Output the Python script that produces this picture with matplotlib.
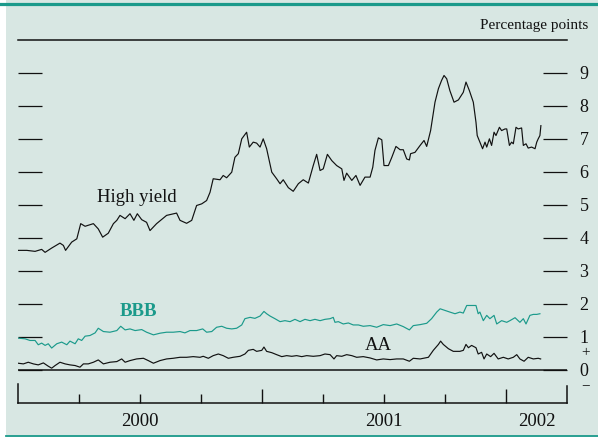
import matplotlib
matplotlib.use('Agg')
import matplotlib.pyplot as plt
from matplotlib.patches import Rectangle
from matplotlib.lines import Line2D
import matplotlib.transforms as mtransforms

plt.rcParams['font.family'] = ['Liberation Serif', 'DejaVu Serif']

# ---------------- data (decimal years, percentage points) ----------------
hy_t = [2000.001, 2000.036, 2000.070, 2000.097, 2000.111, 2000.138, 2000.172, 2000.186,
        2000.195, 2000.220, 2000.241, 2000.257, 2000.275, 2000.309, 2000.329, 2000.347,
        2000.370, 2000.391, 2000.405, 2000.418, 2000.439, 2000.459, 2000.475, 2000.489,
        2000.507, 2000.527, 2000.541, 2000.568, 2000.609, 2000.650, 2000.664, 2000.691,
        2000.712, 2000.732, 2000.753, 2000.773, 2000.787, 2000.800, 2000.828, 2000.841,
        2000.855, 2000.876, 2000.889, 2000.903, 2000.917, 2000.937, 2000.948, 2000.964,
        2000.978, 2000.992, 2001.005, 2001.019, 2001.040, 2001.060, 2001.074, 2001.087,
        2001.108, 2001.128, 2001.149, 2001.169, 2001.190, 2001.210, 2001.224, 2001.238,
        2001.251, 2001.268, 2001.286, 2001.306, 2001.327, 2001.336, 2001.347, 2001.368,
        2001.385, 2001.402, 2001.422, 2001.443, 2001.454, 2001.463, 2001.477, 2001.491,
        2001.500, 2001.518, 2001.532, 2001.549, 2001.566, 2001.579, 2001.593, 2001.604,
        2001.609, 2001.627, 2001.648, 2001.664, 2001.675, 2001.691, 2001.709, 2001.723,
        2001.736, 2001.746, 2001.757, 2001.770, 2001.787, 2001.805, 2001.825, 2001.836,
        2001.850, 2001.866, 2001.877, 2001.882, 2001.893, 2001.904, 2001.914, 2001.921,
        2001.932, 2001.941, 2001.951, 2001.959, 2001.973, 2001.982, 2001.996, 2002.003,
        2002.014, 2002.023, 2002.030, 2002.041, 2002.050, 2002.064, 2002.071, 2002.082,
        2002.091, 2002.105, 2002.119, 2002.126, 2002.132, 2002.139, 2002.143]
hy_v = [3.61, 3.61, 3.58, 3.64, 3.55, 3.68, 3.83, 3.76,
        3.61, 3.86, 3.96, 4.42, 4.34, 4.42, 4.26, 4.01,
        4.13, 4.42, 4.52, 4.67, 4.57, 4.72, 4.52, 4.72,
        4.54, 4.46, 4.21, 4.42, 4.67, 4.74, 4.52, 4.43,
        4.52, 4.97, 5.02, 5.12, 5.37, 5.78, 5.75, 5.88,
        5.81, 5.98, 6.43, 6.54, 6.99, 7.19, 6.74, 6.89,
        6.86, 6.74, 6.99, 6.69, 5.98, 5.78, 5.63, 5.75,
        5.51, 5.40, 5.63, 5.75, 5.65, 6.18, 6.52, 6.03,
        6.08, 6.52, 6.33, 6.18, 6.08, 5.73, 5.95, 5.73,
        5.88, 5.58, 5.83, 5.83, 6.13, 6.64, 7.02, 6.96,
        6.18, 6.18, 6.43, 6.76, 6.66, 6.66, 6.38, 6.35,
        6.54, 6.58, 6.79, 6.94, 6.76, 7.24, 8.10, 8.51,
        8.76, 8.91, 8.81, 8.45, 8.10, 8.17, 8.40, 8.71,
        8.45, 8.10, 7.49, 7.09, 6.89, 6.69, 6.89, 6.74,
        6.99, 6.79, 7.19, 7.09, 7.34, 7.24, 7.29, 7.29,
        6.79, 6.89, 6.84, 7.34, 7.29, 7.32, 6.79, 6.84,
        6.71, 6.74, 6.69, 6.89, 6.99, 7.09, 7.39]

bbb_t = [2000.001, 2000.029, 2000.049, 2000.070, 2000.083, 2000.097, 2000.111, 2000.124,
         2000.138, 2000.159, 2000.179, 2000.200, 2000.213, 2000.234, 2000.247, 2000.261,
         2000.275, 2000.295, 2000.316, 2000.329, 2000.350, 2000.377, 2000.405, 2000.421,
         2000.439, 2000.459, 2000.480, 2000.507, 2000.527, 2000.555, 2000.582, 2000.609,
         2000.636, 2000.664, 2000.684, 2000.705, 2000.732, 2000.757, 2000.773, 2000.794,
         2000.814, 2000.835, 2000.855, 2000.876, 2000.896, 2000.917, 2000.930, 2000.951,
         2000.971, 2000.992, 2001.008, 2001.019, 2001.033, 2001.053, 2001.074, 2001.094,
         2001.115, 2001.135, 2001.156, 2001.176, 2001.197, 2001.217, 2001.238, 2001.258,
         2001.279, 2001.292, 2001.299, 2001.313, 2001.333, 2001.354, 2001.374, 2001.395,
         2001.415, 2001.443, 2001.470, 2001.497, 2001.525, 2001.552, 2001.579, 2001.604,
         2001.620, 2001.648, 2001.675, 2001.695, 2001.716, 2001.730, 2001.750, 2001.770,
         2001.791, 2001.811, 2001.825, 2001.839, 2001.859, 2001.877, 2001.886, 2001.893,
         2001.907, 2001.921, 2001.934, 2001.951, 2001.962, 2001.982, 2002.003, 2002.016,
         2002.037, 2002.057, 2002.071, 2002.082, 2002.098, 2002.112, 2002.126, 2002.139]
bbb_v = [0.95, 0.93, 0.88, 0.88, 0.75, 0.80, 0.73, 0.78,
         0.65, 0.78, 0.83, 0.75, 0.86, 0.78, 0.93, 0.88,
         1.01, 1.03, 1.11, 1.25, 1.15, 1.13, 1.18, 1.31,
         1.20, 1.23, 1.18, 1.21, 1.13, 1.05, 1.10, 1.13,
         1.13, 1.15, 1.11, 1.18, 1.18, 1.23, 1.13, 1.15,
         1.28, 1.31, 1.25, 1.23, 1.25, 1.35, 1.54, 1.58,
         1.55, 1.62, 1.76, 1.69, 1.62, 1.54, 1.45, 1.48,
         1.45, 1.52, 1.45, 1.52, 1.48, 1.52, 1.48, 1.52,
         1.54, 1.58, 1.43, 1.45, 1.38, 1.41, 1.35, 1.35,
         1.31, 1.33, 1.28, 1.36, 1.33, 1.38, 1.30, 1.20,
         1.33, 1.36, 1.40, 1.54, 1.74, 1.84, 1.79, 1.74,
         1.69, 1.74, 1.71, 1.94, 1.94, 1.94, 1.69, 1.74,
         1.48, 1.64, 1.54, 1.64, 1.38, 1.48, 1.43, 1.48,
         1.57, 1.43, 1.54, 1.38, 1.64, 1.67, 1.67, 1.69]

aa_t = [2000.001, 2000.022, 2000.042, 2000.063, 2000.083, 2000.104, 2000.124, 2000.138,
        2000.152, 2000.172, 2000.193, 2000.213, 2000.234, 2000.254, 2000.268, 2000.288,
        2000.309, 2000.329, 2000.350, 2000.377, 2000.405, 2000.425, 2000.439, 2000.459,
        2000.486, 2000.514, 2000.534, 2000.555, 2000.582, 2000.609, 2000.636, 2000.664,
        2000.691, 2000.718, 2000.746, 2000.759, 2000.780, 2000.800, 2000.821, 2000.841,
        2000.862, 2000.882, 2000.910, 2000.930, 2000.944, 2000.964, 2000.978, 2000.999,
        2001.008, 2001.019, 2001.040, 2001.060, 2001.081, 2001.101, 2001.122, 2001.142,
        2001.163, 2001.183, 2001.210, 2001.238, 2001.258, 2001.279, 2001.295, 2001.306,
        2001.327, 2001.347, 2001.368, 2001.388, 2001.415, 2001.443, 2001.470, 2001.497,
        2001.525, 2001.552, 2001.579, 2001.604, 2001.620, 2001.648, 2001.682, 2001.702,
        2001.723, 2001.732, 2001.743, 2001.764, 2001.784, 2001.811, 2001.825, 2001.836,
        2001.846, 2001.859, 2001.877, 2001.886, 2001.900, 2001.910, 2001.921, 2001.937,
        2001.951, 2001.968, 2001.989, 2002.009, 2002.030, 2002.044, 2002.057, 2002.074,
        2002.091, 2002.112, 2002.132, 2002.142]
aa_v = [0.19, 0.17, 0.22, 0.17, 0.14, 0.20, 0.10, 0.04,
        0.12, 0.22, 0.17, 0.14, 0.12, 0.07, 0.17, 0.17,
        0.22, 0.29, 0.17, 0.22, 0.24, 0.32, 0.22, 0.27,
        0.32, 0.34, 0.27, 0.19, 0.27, 0.32, 0.34, 0.37,
        0.37, 0.39, 0.37, 0.40, 0.34, 0.42, 0.47, 0.42,
        0.34, 0.37, 0.40, 0.47, 0.58, 0.61, 0.55, 0.58,
        0.68, 0.55, 0.51, 0.45, 0.39, 0.42, 0.40, 0.42,
        0.39, 0.42, 0.40, 0.42, 0.47, 0.45, 0.32, 0.42,
        0.40, 0.45, 0.42, 0.37, 0.39, 0.35, 0.29, 0.32,
        0.30, 0.32, 0.32, 0.25, 0.34, 0.32, 0.37, 0.58,
        0.76, 0.86, 0.76, 0.63, 0.55, 0.55, 0.58, 0.76,
        0.66, 0.73, 0.66, 0.47, 0.52, 0.32, 0.47, 0.39,
        0.49, 0.32, 0.37, 0.32, 0.37, 0.45, 0.32, 0.25,
        0.37, 0.32, 0.34, 0.32]

y_ticks = [0, 1, 2, 3, 4, 5, 6, 7, 8, 9]
quarter_ticks = [2000.25, 2000.5, 2000.75, 2001.25, 2001.5, 2001.75]
year_ticks = [2001.0, 2002.0]
year_labels = ['2000', '2001', '2002']
year_label_pos = [2000.5, 2001.5, 2002.125]

# ---------------- layout ----------------
W, H = 598, 437
teal = '#1b9a8b'
bg = '#d8e7e3'
ink = '#111111'

fig = plt.figure(figsize=(W / 100, H / 100), dpi=100, facecolor='white')
fig.patches.append(Rectangle((6 / W, 0), 1 - 6 / W, 1, transform=fig.transFigure,
                             facecolor=bg, edgecolor='none', zorder=-10))
fig.add_artist(Line2D([0, 1], [1 - 4 / H] * 2, transform=fig.transFigure, color=teal, lw=2.3))
fig.add_artist(Line2D([6 / W, 1], [1 - 435.5 / H] * 2, transform=fig.transFigure, color=teal, lw=1.3))

ax = fig.add_axes([18 / W, (H - 402.5) / H, 549 / W, 363 / H])
ax.set_facecolor('none')
ax.set_xlim(2000.0, 2002.25)
ax.set_ylim(-1, 10)

ax.plot(hy_t, hy_v, color=ink, lw=0.85)
ax.plot(bbb_t, bbb_v, color=teal, lw=0.85)
ax.plot(aa_t, aa_v, color=ink, lw=0.85)
ax.axhline(0, color=ink, lw=1.1)

for s in ['top', 'bottom']:
    ax.spines[s].set_color(ink)
    ax.spines[s].set_linewidth(1.1)
ax.spines['left'].set_bounds(-1, -1 + 19 / 33)
ax.spines['right'].set_bounds(-1, -1 + 17 / 33)
for s in ['left', 'right']:
    ax.spines[s].set_color(ink)
    ax.spines[s].set_linewidth(1.1)

ax.set_yticks(y_ticks)
ax.set_yticklabels([str(v) for v in y_ticks])
ax.tick_params(axis='y', which='major', direction='in', length=17.5, width=0.9,
               color=ink, left=True, right=True, labelleft=False, labelright=True,
               pad=9.0, labelsize=13, labelcolor=ink)

# quarter ticks (short) and year ticks (longer)
ax.set_xticks(quarter_ticks)
ax.set_xticks(year_ticks, minor=True)
ax.tick_params(axis='x', which='major', direction='in', length=6.5, width=1.0,
               color=ink, labelbottom=False, top=False)
ax.tick_params(axis='x', which='minor', direction='in', length=10, width=1.0,
               color=ink, labelbottom=False, top=False)

for lab, pos in zip(year_labels, year_label_pos):
    ax.text(pos, -1 - 19 / 33, lab, ha='center', va='center', fontsize=13.5,
            color=ink, clip_on=False)

# plus / minus signs beside zero
tr = mtransforms.blended_transform_factory(ax.transAxes, ax.transData)
xa = (585.5 - 18) / 549
ax.text(xa, 0.52, '+', transform=tr, ha='center', va='center', fontsize=11, color=ink)
ax.text(xa, -0.5, '\u2212', transform=tr, ha='center', va='center', fontsize=11, color=ink)

# series labels
ax.text(2000.324, 5.09, 'High yield', fontsize=13.5, color=ink, ha='left', va='baseline')
ax.text(2000.418, 1.615, 'BBB', fontsize=13.5, color=teal, fontweight='bold',
        ha='left', va='baseline')
ax.text(2001.422, 0.60, 'AA', fontsize=13.5, color=ink, ha='left', va='baseline')

fig.text(588 / W, 1 - 28.5 / H, 'Percentage points', fontsize=11, color=ink,
         ha='right', va='baseline')

fig.savefig('out.png', dpi=100, facecolor=fig.get_facecolor())
